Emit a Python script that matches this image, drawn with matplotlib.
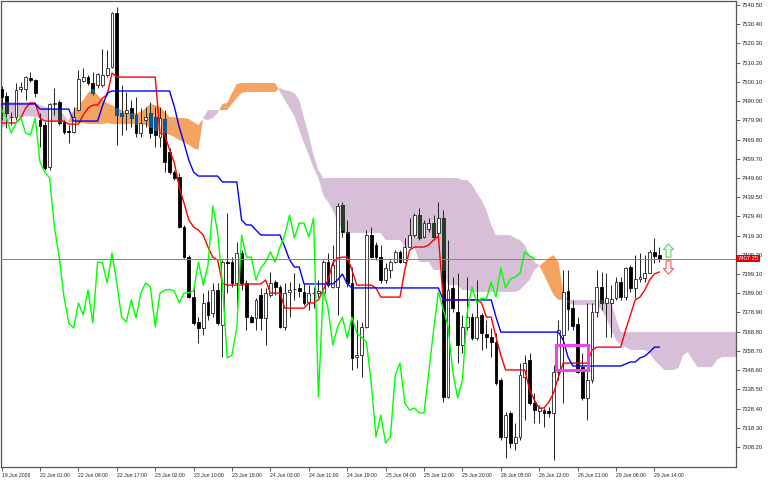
import matplotlib
matplotlib.use("Agg")
import matplotlib.pyplot as plt
import matplotlib.transforms as mtransforms
from matplotlib.patches import Rectangle
from matplotlib.path import Path
import numpy as np

plt.rcParams["font.family"] = ["Liberation Sans", "DejaVu Sans"]

# hourly candles, 19 Jun 2026 .. 29 Jun 15:00
opens = [7496.3, 7492.7, 7481.6, 7481.6, 7496.3, 7496.3, 7502.1, 7501.1, 7480.0, 7477.4,
         7455.3, 7488.5, 7489.5, 7479.0, 7474.3, 7473.7, 7485.3, 7500.5, 7502.6, 7499.5,
         7498.4, 7498.4, 7503.7, 7507.9, 7536.3, 7483.7, 7483.7, 7486.3, 7482.7, 7473.2,
         7480.0, 7483.7, 7481.6, 7471.1, 7480.6, 7463.2, 7452.7, 7450.1, 7423.8, 7408.0,
         7387.0, 7373.9, 7370.7, 7384.4, 7378.6, 7390.7, 7372.3, 7405.4, 7405.4, 7394.4,
         7410.2, 7394.4, 7376.5, 7376.0, 7388.1, 7376.0, 7388.1, 7394.9, 7392.3, 7371.3,
         7389.7, 7391.2, 7391.8, 7389.7, 7384.4, 7389.0, 7389.1, 7389.1, 7405.4, 7392.3,
         7392.3, 7435.4, 7421.2, 7394.4, 7355.5, 7356.5, 7371.3, 7419.6, 7414.4, 7408.0,
         7396.0, 7401.2, 7405.4, 7410.7, 7405.4, 7413.3, 7419.6, 7430.1, 7418.6, 7422.8,
         7425.9, 7420.7, 7428.5, 7334.5, 7391.8, 7379.1, 7361.8, 7371.3, 7376.5, 7365.5,
         7377.6, 7367.6, 7366.0, 7363.4, 7343.4, 7313.5, 7326.1, 7310.3, 7313.5, 7345.0,
         7353.9, 7331.3, 7327.1, 7327.6, 7327.1, 7326.1, 7347.6, 7367.1, 7390.2, 7381.2,
         7372.8, 7350.2, 7334.0, 7343.4, 7379.1, 7392.3, 7383.9, 7383.9, 7386.5, 7394.9,
         7387.0, 7402.8, 7391.8, 7396.5, 7397.0, 7399.6, 7410.7, 7409.1]
highs = [7497.9, 7494.8, 7484.2, 7499.5, 7500.0, 7503.2, 7505.3, 7501.6, 7483.7, 7479.0,
         7489.0, 7496.9, 7490.6, 7480.0, 7477.4, 7486.9, 7506.3, 7507.4, 7503.7, 7505.3,
         7504.7, 7517.4, 7516.8, 7536.8, 7539.4, 7498.4, 7494.8, 7490.6, 7492.1, 7486.3,
         7486.9, 7489.5, 7486.9, 7486.9, 7485.3, 7465.3, 7453.8, 7452.2, 7424.9, 7409.1,
         7392.3, 7376.5, 7389.1, 7390.7, 7394.4, 7394.4, 7406.5, 7431.2, 7408.0, 7415.9,
         7411.7, 7396.0, 7377.6, 7386.5, 7391.8, 7391.8, 7400.2, 7396.0, 7393.3, 7394.4,
         7394.9, 7399.6, 7394.4, 7394.4, 7393.3, 7392.3, 7396.0, 7406.5, 7410.2, 7414.4,
         7436.4, 7437.0, 7427.5, 7402.8, 7374.9, 7373.9, 7422.2, 7423.8, 7415.9, 7414.4,
         7404.9, 7406.5, 7411.7, 7411.7, 7418.0, 7428.5, 7431.2, 7433.8, 7427.5, 7428.5,
         7430.1, 7437.0, 7432.7, 7417.0, 7397.5, 7399.6, 7377.6, 7397.5, 7378.6, 7396.0,
         7378.6, 7374.9, 7370.7, 7368.1, 7344.5, 7326.6, 7327.1, 7320.8, 7352.3, 7356.5,
         7357.6, 7336.6, 7330.3, 7328.7, 7329.2, 7351.3, 7374.9, 7401.2, 7401.2, 7385.5,
         7376.5, 7357.6, 7383.9, 7383.9, 7401.2, 7400.2, 7399.6, 7393.3, 7397.5, 7397.5,
         7402.8, 7403.8, 7409.1, 7410.2, 7409.1, 7411.7, 7418.0, 7413.3]
lows = [7480.0, 7475.8, 7477.4, 7480.0, 7494.8, 7490.6, 7500.0, 7492.1, 7465.9, 7453.8,
        7453.8, 7482.7, 7477.4, 7472.7, 7468.0, 7473.2, 7484.8, 7500.0, 7498.4, 7493.2,
        7496.9, 7497.4, 7502.6, 7507.4, 7466.9, 7472.2, 7474.8, 7476.4, 7471.1, 7471.1,
        7476.4, 7470.6, 7465.9, 7465.9, 7452.7, 7451.7, 7448.5, 7423.3, 7407.5, 7386.5,
        7372.3, 7362.9, 7367.1, 7374.9, 7376.5, 7372.3, 7355.5, 7389.1, 7392.3, 7376.5,
        7390.7, 7369.7, 7373.4, 7369.7, 7369.7, 7361.8, 7387.0, 7388.1, 7370.7, 7369.7,
        7376.5, 7385.5, 7387.0, 7382.8, 7380.2, 7381.2, 7387.0, 7388.1, 7392.3, 7391.8,
        7377.6, 7418.6, 7392.3, 7348.7, 7349.7, 7345.0, 7370.7, 7407.5, 7406.5, 7394.4,
        7394.4, 7397.0, 7404.9, 7404.9, 7404.9, 7412.8, 7418.6, 7417.0, 7418.0, 7421.2,
        7417.0, 7419.6, 7331.9, 7334.0, 7379.1, 7352.3, 7357.6, 7369.7, 7364.4, 7364.4,
        7359.2, 7360.2, 7355.5, 7340.8, 7311.9, 7302.4, 7307.7, 7306.6, 7311.9, 7322.4,
        7330.3, 7320.8, 7320.8, 7318.7, 7324.0, 7301.4, 7343.4, 7331.3, 7369.7, 7369.7,
        7347.1, 7332.9, 7322.4, 7341.8, 7376.5, 7380.2, 7366.0, 7366.0, 7385.5, 7385.5,
        7385.5, 7389.7, 7386.5, 7394.9, 7394.9, 7399.6, 7404.9, 7405.4]
closes = [7492.1, 7483.7, 7481.4, 7495.8, 7497.4, 7502.6, 7501.1, 7494.2, 7476.9, 7454.8,
          7488.5, 7489.0, 7478.5, 7473.7, 7474.0, 7481.6, 7501.6, 7502.6, 7499.5, 7494.2,
          7504.2, 7503.7, 7507.4, 7536.3, 7482.7, 7482.1, 7485.3, 7481.1, 7473.2, 7478.5,
          7481.6, 7473.2, 7472.2, 7481.1, 7458.0, 7452.7, 7449.6, 7423.8, 7408.0, 7387.0,
          7373.4, 7370.7, 7383.9, 7377.6, 7390.7, 7373.4, 7405.4, 7405.0, 7394.4, 7410.2,
          7394.4, 7376.5, 7373.9, 7385.5, 7376.0, 7389.1, 7394.4, 7392.3, 7371.3, 7389.1,
          7390.7, 7391.0, 7390.2, 7383.9, 7389.1, 7389.3, 7390.2, 7405.4, 7393.3, 7403.8,
          7434.9, 7421.2, 7394.4, 7355.0, 7356.5, 7371.3, 7419.6, 7408.0, 7408.0, 7396.0,
          7402.3, 7405.4, 7410.7, 7405.4, 7413.3, 7419.6, 7430.1, 7418.0, 7425.9, 7425.9,
          7418.6, 7428.5, 7334.5, 7390.7, 7381.2, 7361.8, 7371.3, 7376.5, 7365.5, 7376.5,
          7368.1, 7366.0, 7363.4, 7341.8, 7313.5, 7325.0, 7310.3, 7313.5, 7346.0, 7352.3,
          7331.3, 7327.6, 7328.7, 7326.1, 7326.1, 7347.6, 7369.7, 7389.7, 7380.7, 7371.8,
          7347.6, 7334.0, 7343.4, 7379.1, 7392.3, 7383.9, 7386.5, 7386.0, 7394.9, 7387.0,
          7402.3, 7391.8, 7396.5, 7397.5, 7399.6, 7410.7, 7408.6, 7407.25]

tenkan = [7478.5, 7478.5, 7478.5, 7478.5, 7481.1, 7486.3, 7489.0, 7489.0, 7481.1, 7479.5,
          7479.5, 7479.5, 7479.5, 7479.5, 7477.9, 7477.9, 7477.9, 7482.7, 7486.3, 7487.9,
          7487.9, 7491.6, 7493.2, 7504.7, 7502.6, 7502.6, 7502.6, 7502.6, 7502.6, 7502.6,
          7502.6, 7502.6, 7502.6, 7473.2, 7472.2, 7464.3, 7457.4, 7444.8, 7436.4, 7427.5,
          7423.8, 7422.2, 7419.6, 7413.3, 7408.0, 7406.5, 7394.4, 7393.3, 7393.3, 7393.3,
          7393.3, 7393.9, 7393.9, 7393.9, 7393.9, 7396.0, 7389.1, 7389.1, 7389.1, 7381.2,
          7381.2, 7381.2, 7381.2, 7381.2, 7383.9, 7383.9, 7385.5, 7390.7, 7396.0, 7404.9,
          7407.5, 7408.0, 7408.0, 7401.2, 7393.3, 7393.3, 7393.3, 7393.3, 7391.8, 7387.0,
          7387.0, 7387.0, 7387.0, 7387.0, 7401.2, 7411.7, 7413.3, 7413.3, 7413.3, 7414.4,
          7417.0, 7419.1, 7385.5, 7385.5, 7385.5, 7385.5, 7385.5, 7385.5, 7385.5, 7385.5,
          7383.9, 7376.5, 7376.5, 7366.0, 7356.5, 7348.7, 7348.7, 7348.7, 7348.7, 7348.7,
          7338.2, 7332.9, 7328.7, 7328.7, 7331.9, 7336.6, 7345.0, 7352.3, 7352.3, 7352.3,
          7352.3, 7352.3, 7352.3, 7359.2, 7360.7, 7360.7, 7360.7, 7360.7, 7360.7, 7360.7,
          7369.7, 7377.6, 7385.5, 7387.0, 7390.7, 7396.0, 7399.1, 7400.2]
kijun = [7488.5, 7488.5, 7488.5, 7488.5, 7488.5, 7488.5, 7488.5, 7488.5, 7485.8, 7485.8,
         7485.8, 7485.8, 7485.8, 7485.8, 7485.8, 7479.5, 7479.5, 7479.5, 7479.5, 7479.5,
         7479.5, 7487.4, 7494.2, 7495.3, 7495.3, 7495.3, 7495.3, 7495.3, 7495.3, 7495.3,
         7495.3, 7495.3, 7495.3, 7495.3, 7495.3, 7495.3, 7486.9, 7476.4, 7468.0, 7459.0,
         7452.7, 7450.6, 7450.6, 7450.6, 7450.6, 7450.6, 7447.5, 7447.5, 7447.5, 7447.5,
         7427.5, 7424.9, 7424.9, 7422.2, 7419.6, 7419.6, 7419.6, 7419.6, 7419.6, 7413.3,
         7406.5, 7402.8, 7402.8, 7393.9, 7393.9, 7393.9, 7393.9, 7393.9, 7393.9, 7393.9,
         7396.0, 7399.1, 7393.9, 7391.8, 7391.8, 7391.8, 7391.8, 7391.8, 7391.8, 7391.8,
         7391.8, 7391.8, 7391.8, 7391.8, 7391.8, 7391.8, 7391.8, 7391.8, 7391.8, 7391.8,
         7391.8, 7391.8, 7385.5, 7385.5, 7385.5, 7385.5, 7385.5, 7385.5, 7385.5, 7385.5,
         7385.5, 7385.5, 7385.5, 7376.5, 7368.6, 7368.6, 7368.6, 7368.6, 7368.6, 7368.6,
         7368.6, 7368.6, 7368.6, 7368.6, 7368.6, 7368.6, 7368.6, 7364.4, 7355.5, 7350.8,
         7350.8, 7350.8, 7350.8, 7350.8, 7350.8, 7350.8, 7350.8, 7350.8, 7350.8, 7350.8,
         7351.8, 7352.9, 7352.9, 7355.0, 7356.0, 7358.1, 7360.7, 7360.7]

# senkou spans (already shifted 26 bars ahead, so they run past the last candle)
span_a = [7475.8, 7477.4, 7481.1, 7481.6, 7481.6, 7482.1, 7482.1, 7481.6, 7481.1, 7480.0,
          7479.5, 7479.0, 7479.0, 7479.0, 7480.0, 7485.3, 7487.9, 7490.6, 7494.2, 7496.3,
          7493.2, 7490.6, 7489.0, 7487.9, 7486.3, 7485.3, 7484.2, 7483.7, 7483.7, 7484.2,
          7486.3, 7488.5, 7487.9, 7486.9, 7484.2, 7481.6, 7481.6, 7481.1, 7481.1, 7480.6,
          7479.0, 7477.4, 7480.6, 7480.0, 7481.1, 7483.7, 7488.5, 7489.0, 7494.2, 7499.0,
          7499.5, 7499.5, 7499.5, 7499.5, 7499.5, 7499.5, 7499.5, 7499.5, 7494.8, 7490.6,
          7486.3, 7482.1, 7474.8, 7468.0, 7461.7, 7454.8, 7449.6, 7440.6, 7437.0, 7432.7,
          7426.4, 7422.2, 7420.7, 7420.7, 7420.7, 7420.7, 7420.7, 7420.7, 7420.7, 7420.7,
          7417.0, 7417.0, 7417.0, 7417.0, 7413.3, 7413.3, 7413.3, 7405.4, 7405.4, 7405.4,
          7401.2, 7401.2, 7401.2, 7393.3, 7393.3, 7393.3, 7390.7, 7390.7, 7389.7, 7389.7,
          7389.7, 7389.7, 7389.7, 7389.7, 7389.7, 7389.7, 7389.7, 7389.7, 7390.7, 7393.3,
          7396.0, 7401.2, 7403.3, 7405.4, 7407.5, 7409.1, 7405.4, 7390.7, 7384.4, 7382.8,
          7382.8, 7382.8, 7382.8, 7382.8, 7382.8, 7380.2, 7376.0, 7369.7, 7364.4, 7361.8,
          7360.7, 7359.2, 7359.2, 7359.2, 7359.2, 7357.6, 7353.9, 7351.3, 7348.7, 7348.7,
          7348.7, 7349.7, 7356.5, 7358.1, 7353.9, 7350.2, 7350.2, 7350.2, 7350.2, 7353.9,
          7355.5, 7355.5, 7355.5, 7355.5]
span_b = [7489.5, 7489.5, 7489.5, 7489.5, 7489.5, 7489.5, 7489.5, 7489.0, 7487.9, 7486.9,
          7486.3, 7486.3, 7485.3, 7482.7, 7479.0, 7478.5, 7478.5, 7478.5, 7477.9, 7477.9,
          7477.9, 7477.9, 7478.5, 7477.9, 7477.9, 7477.9, 7477.9, 7477.9, 7477.9, 7477.9,
          7477.4, 7476.4, 7474.8, 7473.7, 7473.2, 7472.2, 7471.1, 7469.5, 7468.5, 7466.9,
          7465.3, 7464.3, 7481.1, 7485.3, 7485.3, 7485.3, 7485.3, 7485.3, 7488.5, 7491.6,
          7494.2, 7494.8, 7494.8, 7494.8, 7494.8, 7494.8, 7494.8, 7494.8, 7496.9, 7495.8,
          7495.3, 7494.2, 7490.6, 7481.1, 7472.2, 7461.7, 7453.8, 7449.6, 7449.6, 7449.6,
          7449.6, 7449.6, 7449.6, 7449.6, 7449.6, 7449.6, 7449.6, 7449.6, 7449.6, 7449.6,
          7449.6, 7449.6, 7449.6, 7449.6, 7449.6, 7449.6, 7449.6, 7449.6, 7449.6, 7449.6,
          7449.6, 7449.6, 7449.6, 7449.6, 7449.6, 7449.6, 7448.5, 7448.5, 7445.9, 7441.7,
          7438.0, 7432.7, 7424.9, 7419.6, 7419.6, 7419.6, 7419.6, 7418.0, 7417.0, 7414.4,
          7409.1, 7405.4, 7403.8, 7398.6, 7393.3, 7388.1, 7385.5, 7385.5, 7385.5, 7385.5,
          7385.5, 7385.5, 7385.5, 7385.5, 7385.5, 7385.5, 7385.5, 7383.9, 7376.0, 7368.6,
          7368.6, 7368.6, 7368.6, 7368.6, 7368.6, 7368.6, 7368.6, 7368.6, 7368.6, 7368.6,
          7368.6, 7368.6, 7368.6, 7368.6, 7368.6, 7368.6, 7368.6, 7368.6, 7368.6, 7368.6,
          7368.6, 7368.6, 7368.6, 7368.6]

tick_bars = [0, 8, 16, 24, 32, 40, 48, 56, 64, 72, 80, 88, 96, 104, 112, 120, 128, 136]
tick_labels = ["19 Jun 2026", "22 Jun 01:00", "22 Jun 09:00", "22 Jun 17:00", "23 Jun 02:00",
               "23 Jun 10:00", "23 Jun 18:00", "24 Jun 03:00", "24 Jun 11:00", "24 Jun 19:00",
               "25 Jun 04:00", "25 Jun 12:00", "25 Jun 20:00", "26 Jun 05:00", "26 Jun 13:00",
               "26 Jun 21:00", "29 Jun 06:00", "29 Jun 14:00"]
price_ticks = [7540.50, 7530.40, 7520.30, 7510.20, 7500.10, 7490.00, 7479.90, 7469.80,
               7459.70, 7449.60, 7439.50, 7429.40, 7419.30, 7409.20, 7399.10, 7389.00,
               7378.90, 7368.80, 7358.70, 7348.60, 7338.50, 7328.40, 7318.30, 7308.20]
last_price = 7407.25
chikou_shift = 26
signal_bar = 138.8
buy_level = 7411.9
sell_level = 7402.6

ORANGE = "#f4a460"
THISTLE = "#d8bfd8"

o = np.array(opens)
h = np.array(highs)
l = np.array(lows)
c = np.array(closes)
x = np.arange(len(c))

fig = plt.figure(figsize=(7.68, 4.8), dpi=100)
ax = fig.add_axes([1 / 768, 13 / 480, 735 / 768, 466 / 480])

# kumo
a = np.array(span_a)
b = np.array(span_b)
xc = np.arange(len(a))
ax.fill_between(xc, a, b, where=a >= b, interpolate=True, color=ORANGE, lw=0, zorder=1)
ax.fill_between(xc, a, b, where=a < b, interpolate=True, color=THISTLE, lw=0, zorder=1)

# candles
up = c >= o
ax.vlines(x, l, h, color="#222222", lw=0.7, zorder=2)
body_lo = np.minimum(o, c)
body_hi = np.maximum(o, c)
body_h = np.maximum(body_hi - body_lo, 0.35)
ax.bar(x[up], body_h[up], bottom=body_lo[up], width=0.62, color="white",
       edgecolor="#222222", lw=0.6, zorder=3)
ax.bar(x[~up], body_h[~up], bottom=body_lo[~up], width=0.62, color="black",
       edgecolor="black", lw=0.6, zorder=3)

# the terminal paints the kumo in xor mode: dark bodies inside it come out inverted
n = len(c)
k_lo = np.minimum(a[:n], b[:n])
k_hi = np.maximum(a[:n], b[:n])
ov_lo = np.maximum(body_lo, k_lo)
ov_hi = np.minimum(body_hi, k_hi)
inside = (~up) & (ov_hi > ov_lo)
inv = np.where(a[:n] >= b[:n], "#0b5b9f", "#273f27")
ax.bar(x[inside], (ov_hi - ov_lo)[inside], bottom=ov_lo[inside], width=0.62,
       color=inv[inside], edgecolor=inv[inside], lw=0.6, zorder=3.5)

# ichimoku lines
ax.plot(x, tenkan, color="#ff0000", lw=1.0, zorder=4)
ax.plot(x, kijun, color="#0000ff", lw=1.0, zorder=4)
ax.plot(x[:-chikou_shift], c[chikou_shift:], color="#00ff00", lw=1.0, zorder=4)

ax.axhline(last_price, color="#b86a6a", lw=0.7, zorder=5)

# marked box
ax.add_patch(Rectangle((115.6, 7348.7), 6.6, 13.1, fill=False, ec="#ee44ee", lw=2.2, zorder=6))

# hollow signal arrows as marker shapes
arrow_up = Path([(0, 6.5), (5, 1.0), (2.4, 1.0), (2.4, -6.5), (-2.4, -6.5),
                 (-2.4, 1.0), (-5, 1.0), (0, 6.5)], closed=True)
arrow_dn = Path([(0, -6.5), (5, -1.0), (2.4, -1.0), (2.4, 6.5), (-2.4, 6.5),
                 (-2.4, -1.0), (-5, -1.0), (0, -6.5)], closed=True)
ax.plot([signal_bar], [buy_level], marker=arrow_up, markersize=9.5, mfc="none",
        mec="#55dd55", mew=0.8, ls="none", zorder=6)
ax.plot([signal_bar], [sell_level], marker=arrow_dn, markersize=9.5, mfc="none",
        mec="#ff5555", mew=0.8, ls="none", zorder=6)

ax.set_xlim(-0.125, 153.0)
ax.set_ylim(7297.7, 7542.6)

ax.yaxis.tick_right()
ax.set_yticks(price_ticks)
ax.set_yticklabels([f"{p:.2f}" for p in price_ticks])
ax.set_xticks(tick_bars)
ax.set_xticklabels(tick_labels, ha="left")
ax.tick_params(axis="both", length=3, width=0.6, pad=1.2, colors="#444444",
               labelcolor="#222222")
ax.tick_params(axis="y", labelsize=4.2)
ax.tick_params(axis="x", labelsize=3.7)
for s in ax.spines.values():
    s.set_color("#555555")
    s.set_linewidth(0.9)

trans = mtransforms.blended_transform_factory(ax.transAxes, ax.transData)
ax.text(1.002, last_price, f"{last_price:.2f}", transform=trans, fontsize=4.2, color="white",
        ha="left", va="center", zorder=10, clip_on=False,
        bbox=dict(boxstyle="square,pad=0.2", fc="#dd0000", ec="none"))

fig.savefig("out.png", dpi=100)
